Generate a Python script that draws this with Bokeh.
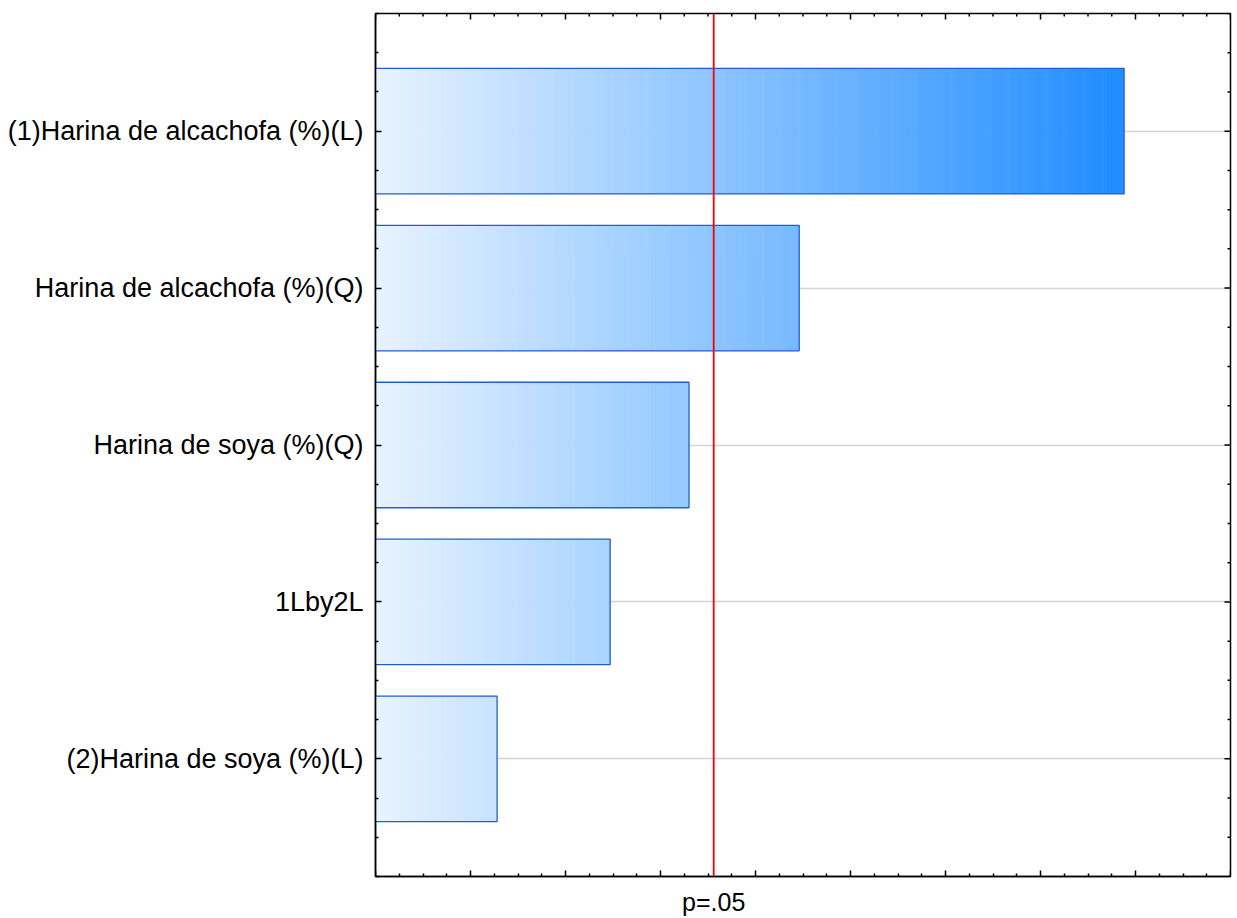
import numpy as np
from bokeh.plotting import figure
from bokeh.models import Range1d, FixedTicker, LinearAxis, Span, Grid
from bokeh.embed import file_html
from bokeh.resources import INLINE

categories = ["(1)Harina de alcachofa (%)(L)", "Harina de alcachofa (%)(Q)",
              "Harina de soya (%)(Q)", "1Lby2L", "(2)Harina de soya (%)(L)"]
effects = [7.88, 4.46, 3.30, 2.47, 1.28]
p_crit = 3.56
p_label = "p=.05"

x_max = 9.0
ypos = list(range(len(categories)))
y_lo, y_hi = -0.75, len(categories) - 0.25

p = figure(width=1232, height=918, output_backend="svg", toolbar_location=None,
           x_range=Range1d(0, x_max), y_range=Range1d(y_hi, y_lo),
           x_axis_location=None, y_axis_location=None,
           min_border_left=375, min_border_right=2, min_border_top=13, min_border_bottom=42)
p.outline_line_color = "black"
p.outline_line_width = 1.5
p.background_fill_color = "white"
p.xgrid.visible = False
p.ygrid.visible = False

# gradient bars built as thin strips
c0 = np.array([232, 243, 255], dtype=float)
c1 = np.array([30, 140, 255], dtype=float)
vmax = max(effects)
step = 0.02
h = 0.4
lefts, rights, bottoms, tops, colors = [], [], [], [], []
for y, v in zip(ypos, effects):
    edges = list(np.arange(0, v, step)) + [v]
    for a, b in zip(edges[:-1], edges[1:]):
        f = ((a + b) / 2) / vmax
        c = c0 + (c1 - c0) * f
        colors.append("#%02x%02x%02x" % tuple(int(round(t)) for t in c))
        lefts.append(a); rights.append(min(b + step * 0.3, v))
        bottoms.append(y - h); tops.append(y + h)

grid = Grid(dimension=1, ticker=FixedTicker(ticks=ypos), grid_line_color="#d4d4d4", grid_line_width=1.5)
p.add_layout(grid)

p.quad(left=lefts, right=rights, bottom=bottoms, top=tops, fill_color=colors, line_color=None)
p.quad(left=[0] * len(effects), right=effects, bottom=[y - h for y in ypos],
       top=[y + h for y in ypos], fill_color=None, line_color="#1f5ed8", line_width=1.3)

p.add_layout(Span(location=p_crit, dimension="height", line_color="#ff0000", line_width=1.8))

# tick positions
x_major = list(np.arange(0, x_max + 0.01, 1.0))
x_minor = [t for t in np.arange(0, x_max + 0.01, 0.25) if abs(t - round(t)) > 1e-6]
y_minor = [t for t in np.arange(y_lo, y_hi + 0.01, 0.25) if abs(t - round(t)) > 1e-6]

def style(ax):
    ax.axis_line_color = "black"
    ax.axis_line_width = 1.5
    ax.major_tick_in = 6
    ax.major_tick_out = 0
    ax.minor_tick_in = 3
    ax.minor_tick_out = 0
    ax.major_tick_line_color = "black"
    ax.minor_tick_line_color = "black"
    ax.major_tick_line_width = 1.5
    ax.minor_tick_line_width = 1.5
    ax.major_label_text_font = "Liberation Sans"
    ax.major_label_text_font_size = "27px"
    ax.major_label_text_color = "black"
    ax.major_label_standoff = 12

left = LinearAxis(ticker=FixedTicker(ticks=ypos, minor_ticks=y_minor),
                  major_label_overrides={i: c for i, c in zip(ypos, categories)})
style(left)
p.add_layout(left, "left")

bottom = LinearAxis(ticker=FixedTicker(ticks=[p_crit], minor_ticks=x_minor),
                    major_label_overrides={p_crit: p_label})
style(bottom)
bottom.major_tick_in = 0
bottom.major_label_text_font_size = "25px"
bottom.major_label_standoff = 11
p.add_layout(bottom, "below")

# remaining tick marks (frame clips the outer half)
tick_kw = dict(marker="dash", line_color="black", line_width=1.5)
p.scatter(x=x_major, y=[y_hi] * len(x_major), size=12, angle=np.pi / 2, **tick_kw)
p.scatter(x=x_major, y=[y_lo] * len(x_major), size=12, angle=np.pi / 2, **tick_kw)
p.scatter(x=x_minor, y=[y_lo] * len(x_minor), size=6, angle=np.pi / 2, **tick_kw)
p.scatter(x=[x_max] * len(ypos), y=ypos, size=12, **tick_kw)
p.scatter(x=[x_max] * len(y_minor), y=y_minor, size=6, **tick_kw)

open("out.html", "w").write(file_html(p, INLINE))
